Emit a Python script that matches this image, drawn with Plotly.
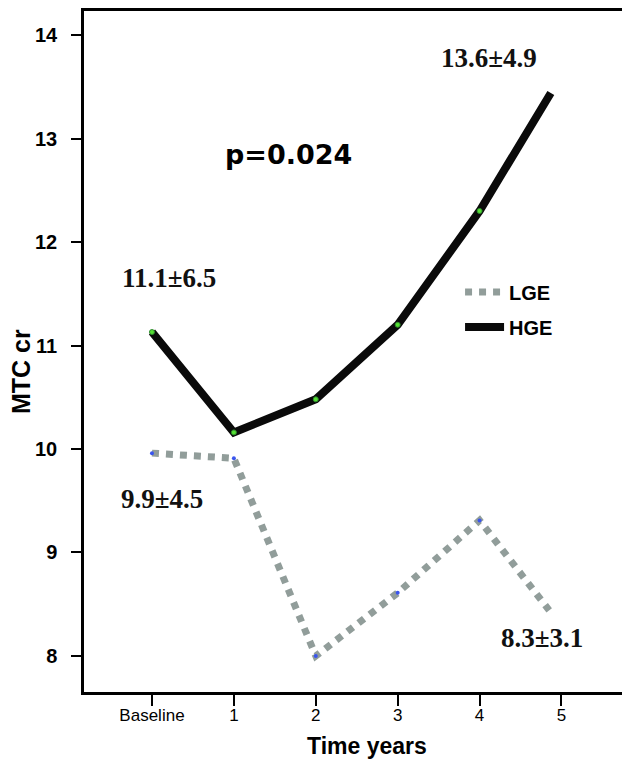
import plotly.graph_objects as go

# ---- data ----
time_labels = ["Baseline", "1", "2", "3", "4", "5"]
time_ticks = [0, 1, 2, 3, 4, 5]

lge_x = [0, 1, 2, 3, 4, 4.85]
lge_y = [9.96, 9.91, 8.00, 8.61, 9.31, 8.44]

hge_x = [0, 1, 2, 3, 4, 4.87]
hge_y = [11.13, 10.16, 10.48, 11.20, 12.30, 13.44]

y_ticks = [8, 9, 10, 11, 12, 13, 14]

notes = [
    ("11.1±6.5", 0.21, 11.65),
    ("13.6±4.9", 4.12, 13.78),
    ("9.9±4.5", 0.12, 9.52),
    ("8.3±3.1", 4.76, 8.17),
]
p_text = ("p=0.024", 1.67, 12.85)
x_title = "Time years"
y_title = "MTC cr"

SANS = "Liberation Sans, Arial, sans-serif"
SERIF = "Liberation Serif, Times New Roman, serif"

fig = go.Figure()

fig.add_trace(go.Scatter(
    x=lge_x, y=lge_y, mode="lines", name="LGE",
    line=dict(color="#919d9a", width=7, dash="dot"),
    legendgroup="a",
))
fig.add_trace(go.Scatter(
    x=hge_x, y=hge_y, mode="lines", name="HGE",
    line=dict(color="#0a0a0a", width=8),
    legendgroup="b",
))
# point markers (not on the final segment end)
fig.add_trace(go.Scatter(
    x=lge_x[:5], y=lge_y[:5], mode="markers", showlegend=False,
    marker=dict(color="#3a55ee", size=4, line=dict(width=0)),
))
fig.add_trace(go.Scatter(
    x=hge_x[:5], y=hge_y[:5], mode="markers", showlegend=False,
    marker=dict(color="#55e033", size=5, line=dict(color="#2e8a2e", width=1)),
))

annotations = []
for txt, ax, ay in notes:
    annotations.append(dict(
        x=ax, y=ay, xref="x", yref="y", text=txt, showarrow=False,
        font=dict(family=SERIF, size=27, color="#111", weight="bold"),
        xanchor="center", yanchor="middle",
    ))
annotations.append(dict(
    x=p_text[1], y=p_text[2], xref="x", yref="y", text=p_text[0], showarrow=False,
    font=dict(family="DejaVu Sans", size=27, color="#000", weight="bold"),
    xanchor="center", yanchor="middle",
))
# axis titles
annotations.append(dict(
    x=0.526, y=-0.080, xref="paper", yref="paper", text=x_title, showarrow=False,
    font=dict(family=SANS, size=23, color="#000", weight="bold"),
    xanchor="center", yanchor="middle",
))
annotations.append(dict(
    x=-0.117, y=0.470, xref="paper", yref="paper", text=y_title, showarrow=False,
    textangle=-90,
    font=dict(family=SANS, size=25, color="#000", weight="bold"),
    xanchor="center", yanchor="middle",
))

fig.update_layout(
    width=622, height=760,
    margin=dict(l=84, r=0, t=11, b=68, autoexpand=False),
    paper_bgcolor="white", plot_bgcolor="white",
    showlegend=True,
    legend=dict(
        x=0.699, y=0.616, xanchor="left", yanchor="top",
        bgcolor="rgba(0,0,0,0)", borderwidth=0,
        font=dict(family=SANS, size=20, color="#000", weight="bold"),
        traceorder="grouped", tracegroupgap=6, itemwidth=39,
    ),
    annotations=annotations,
)

fig.update_xaxes(
    range=[-0.830, 5.739], automargin=False,
    tickmode="array", tickvals=time_ticks, ticktext=time_labels,
    ticks="outside", ticklen=11, tickwidth=1.5, tickcolor="#000",
    showline=True, linecolor="#000", linewidth=2.5, mirror=True,
    showgrid=False, zeroline=False,
    ticklabelstandoff=-5,
    tickfont=dict(family=SANS, size=17, color="#000"),
)
fig.update_yaxes(
    range=[7.652, 14.232], automargin=False,
    tickmode="array", tickvals=y_ticks,
    ticks="outside", ticklen=10, tickwidth=1.5, tickcolor="#000",
    showline=True, linecolor="#000", linewidth=2.5,
    showgrid=False, zeroline=False,
    ticklabelstandoff=10,
    tickfont=dict(family=SANS, size=20, color="#000", weight="bold"),
)

fig.write_html(
    "out.html",
    config={"displayModeBar": False},
    post_script="document.body.style.margin='0';document.body.style.overflow='hidden';",
)
